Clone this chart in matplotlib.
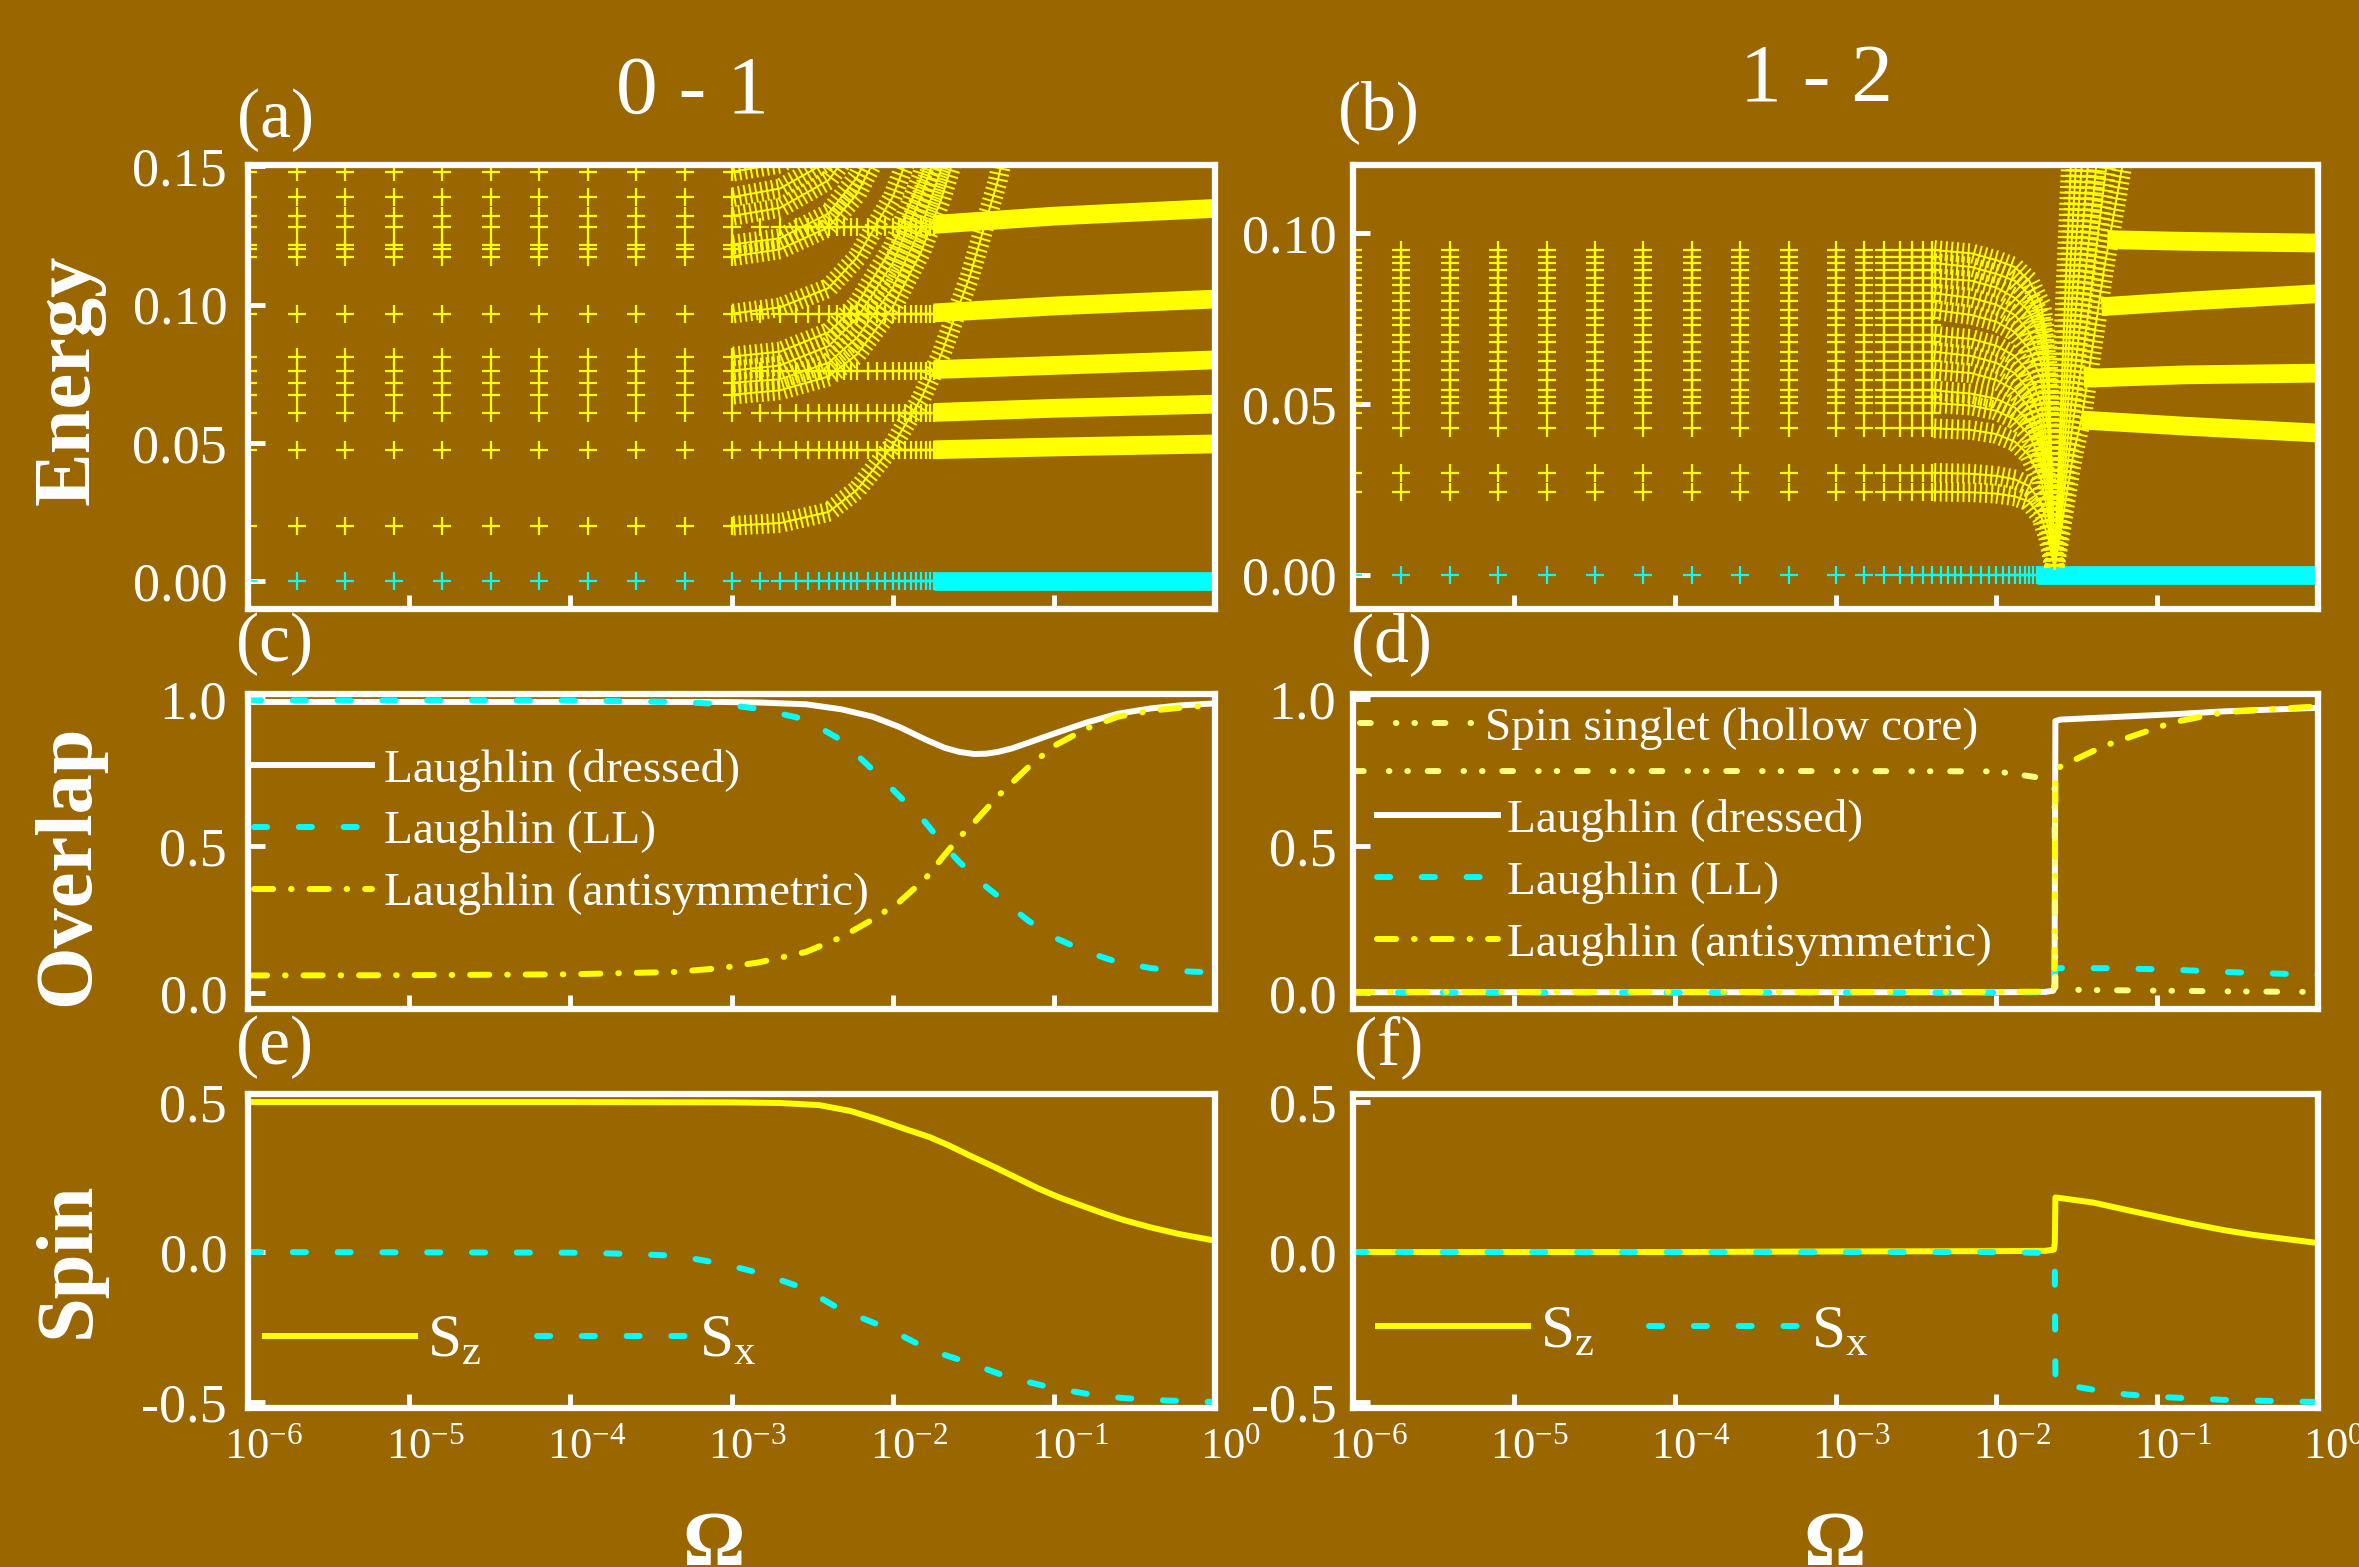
import matplotlib
matplotlib.use("Agg")
import matplotlib.pyplot as plt
import matplotlib.patheffects as pe
from matplotlib.transforms import ScaledTranslation
from matplotlib.ticker import LogLocator, NullLocator, FixedLocator, FormatStrFormatter

BG = "#996600"
YEL = "#ffff00"
CYA = "#00ffff"
WHT = "#ffffff"
PALE = "#ffff88"

# ---------------- energy spectra: sampling in Omega ----------------
omega_sparse = [1e-6, 2e-6, 4e-6, 8e-6, 1.6e-5, 3.2e-5, 6.4e-5, 1.28e-4, 2.56e-4, 5.12e-4, 1.0e-3]
omega_dense = [1.5e-3, 2.0e-3, 2.5e-3, 3.0e-3, 3.5e-3, 4.0e-3, 4.5e-3, 5.0e-3, 5.5e-3, 6.0e-3,
               7.0e-3, 8.0e-3, 9.0e-3, 1.0e-2, 1.1e-2, 1.2e-2, 1.3e-2, 1.4e-2, 1.5e-2, 1.6e-2,
               1.7e-2, 1.8e-2]

# (a) 0-1
levels_a = [0.0200, 0.0475, 0.0609, 0.0674, 0.0717, 0.0761, 0.0812, 0.0967, 0.1174, 0.1200,
            0.1217, 0.1280, 0.1320, 0.1388, 0.1480]
flat_a = [0.0475, 0.0609, 0.0761, 0.0967, 0.1280]
band_omega_a = [0.018, 0.1, 1.0]
bands_a = [[0.0475, 0.0485, 0.0496],
           [0.0610, 0.0625, 0.0640],
           [0.0765, 0.0780, 0.0800],
           [0.0970, 0.0995, 0.1020],
           [0.1290, 0.1320, 0.1348]]
ground_band = [0.0, 0.0, 0.0]
rise_omega_a = [1e-3, 2e-3, 4e-3, 6e-3, 1e-2, 1.5e-2, 2e-2, 3e-2, 4.5e-2, 6e-2]
rise_a = [[0.0200, 0.021, 0.025, 0.033, 0.049, 0.066, 0.082, 0.110, 0.145, 0.180],
          [0.0674, 0.069, 0.074, 0.082, 0.099, 0.119, 0.138, 0.172, 0.215, 0.260],
          [0.0717, 0.073, 0.079, 0.088, 0.106, 0.128, 0.149, 0.186, 0.230, 0.280],
          [0.0761, 0.078, 0.085, 0.095, 0.115, 0.139, 0.160, 0.200, 0.245, 0.290],
          [0.0812, 0.083, 0.090, 0.100, 0.121, 0.146, 0.168, 0.210, 0.260, 0.310],
          [0.0967, 0.099, 0.106, 0.117, 0.139, 0.166, 0.190, 0.230, 0.280, 0.330],
          [0.1174, 0.120, 0.128, 0.140, 0.165, 0.195, 0.220, 0.270, 0.320, 0.370],
          [0.1217, 0.124, 0.133, 0.146, 0.172, 0.203, 0.230, 0.280, 0.330, 0.380],
          [0.1320, 0.135, 0.145, 0.159, 0.187, 0.220, 0.250, 0.300, 0.350, 0.400],
          [0.1388, 0.142, 0.152, 0.167, 0.196, 0.230, 0.260, 0.310, 0.360, 0.410],
          [0.1480, 0.151, 0.162, 0.178, 0.210, 0.240, 0.270, 0.320, 0.370, 0.420]]

# (b) 1-2
levels_b = [0.0244, 0.0299, 0.0429, 0.0473, 0.0503, 0.0521, 0.0540, 0.0570, 0.0600, 0.0624,
            0.0653, 0.0680, 0.0700, 0.0731, 0.0750, 0.0775, 0.0800, 0.0824, 0.0848, 0.0868,
            0.0890, 0.0912, 0.0930, 0.0950]
omega_dense_b = [1.5e-3, 2.0e-3, 2.5e-3, 3.0e-3, 3.5e-3, 4.0e-3]
fan_omega_b = [4e-3, 7e-3, 1e-2, 1.3e-2, 1.6e-2, 1.9e-2, 2.1e-2, 2.3e-2]
fan_b = [[0.0244, 0.0242, 0.0238, 0.0230, 0.0215, 0.017, 0.011, 0.002],
         [0.0299, 0.0296, 0.0290, 0.0280, 0.0260, 0.021, 0.014, 0.002],
         [0.0429, 0.0424, 0.0412, 0.0390, 0.0350, 0.028, 0.018, 0.002],
         [0.0503, 0.0495, 0.0480, 0.0455, 0.0410, 0.033, 0.021, 0.002],
         [0.0540, 0.0530, 0.0515, 0.0490, 0.0450, 0.037, 0.025, 0.002],
         [0.0600, 0.0590, 0.0570, 0.0540, 0.0490, 0.040, 0.028, 0.002],
         [0.0653, 0.0640, 0.0620, 0.0590, 0.0540, 0.045, 0.032, 0.002],
         [0.0700, 0.0690, 0.0670, 0.0640, 0.0590, 0.050, 0.036, 0.002],
         [0.0775, 0.0760, 0.0740, 0.0710, 0.0660, 0.057, 0.042, 0.002],
         [0.0824, 0.0810, 0.0790, 0.0760, 0.0710, 0.062, 0.047, 0.002],
         [0.0868, 0.0860, 0.0840, 0.0810, 0.0770, 0.069, 0.054, 0.002],
         [0.0912, 0.0900, 0.0880, 0.0860, 0.0820, 0.075, 0.060, 0.002],
         [0.0950, 0.0940, 0.0920, 0.0900, 0.0860, 0.079, 0.065, 0.002]]
rise_omega_b = [0.023, 0.025, 0.027, 0.030, 0.034, 0.040, 0.047, 0.055, 0.062]
rise_b = [[0.002, 0.045, 0.085, 0.135, 0.190, 0.260, 0.330, 0.400, 0.460],
          [0.002, 0.035, 0.065, 0.105, 0.150, 0.210, 0.280, 0.350, 0.410],
          [0.002, 0.027, 0.052, 0.085, 0.120, 0.170, 0.230, 0.290, 0.350],
          [0.002, 0.022, 0.042, 0.068, 0.098, 0.138, 0.180, 0.220, 0.260],
          [0.002, 0.018, 0.034, 0.055, 0.078, 0.110, 0.145, 0.180, 0.210],
          [0.002, 0.015, 0.028, 0.045, 0.062, 0.088, 0.115, 0.140, 0.160],
          [0.002, 0.012, 0.022, 0.035, 0.046, 0.068, 0.090, 0.108, 0.122]]
bands_b_omega = [[0.049, 0.15, 1.0], [0.045, 0.15, 1.0], [0.035, 0.15, 1.0], [0.034, 0.15, 1.0]]
bands_b = [[0.0980, 0.0975, 0.0970],
           [0.0784, 0.0800, 0.0822],
           [0.0575, 0.0585, 0.0590],
           [0.0453, 0.0435, 0.0415]]

# ---------------- overlaps ----------------
omega_c = [1e-6, 1e-5, 1e-4, 4.5e-4, 8.6e-4, 1.5e-3, 2.9e-3, 4.8e-3, 7.5e-3, 1.1e-2, 1.6e-2,
           2.1e-2, 2.6e-2, 3.2e-2, 3.8e-2, 4.5e-2, 5.5e-2, 7e-2, 0.1, 0.16, 0.25, 0.4, 0.6, 1.0]
dressed_c = [0.990, 0.990, 0.990, 0.990, 0.990, 0.988, 0.982, 0.965, 0.940, 0.905, 0.862,
             0.834, 0.820, 0.813, 0.814, 0.820, 0.832, 0.852, 0.882, 0.920, 0.950, 0.968, 0.978, 0.985]
ll_c = [0.995, 0.995, 0.995, 0.990, 0.983, 0.966, 0.930, 0.860, 0.760, 0.670, 0.580,
        0.500, 0.445, 0.400, 0.362, 0.330, 0.290, 0.245, 0.190, 0.140, 0.105, 0.085, 0.075, 0.070]
anti_c = [0.060, 0.061, 0.064, 0.072, 0.085, 0.105, 0.140, 0.190, 0.250, 0.310, 0.390,
          0.470, 0.530, 0.580, 0.625, 0.670, 0.715, 0.770, 0.840, 0.900, 0.940, 0.960, 0.970, 0.980]

omega_d = [1e-6, 1e-3, 1e-2, 0.020, 0.0226, 0.0230, 0.0233, 0.025, 0.0465, 0.124, 0.26, 1.0]
dressed_d = [0.003, 0.003, 0.003, 0.004, 0.008, 0.020, 0.925, 0.930, 0.937, 0.948, 0.958, 0.970]
ll_d = [0.002, 0.002, 0.002, 0.003, 0.006, 0.020, 0.083, 0.085, 0.085, 0.080, 0.072, 0.062]
anti_d = [0.004, 0.004, 0.004, 0.005, 0.010, 0.030, 0.755, 0.770, 0.840, 0.920, 0.955, 0.975]
singlet_d = [0.755, 0.755, 0.754, 0.730, 0.715, 0.700, 0.012, 0.012, 0.010, 0.008, 0.006, 0.004]

# ---------------- spin ----------------
omega_sz_e = [1e-6, 1e-4, 1e-3, 2e-3, 3.5e-3, 5.5e-3, 8e-3, 1.2e-2, 1.7e-2, 2.2e-2, 3e-2,
              4.3e-2, 6e-2, 8e-2, 0.107, 0.14, 0.2, 0.27, 0.4, 0.6, 1.0]
sz_e = [0.500, 0.500, 0.499, 0.497, 0.490, 0.470, 0.443, 0.410, 0.383, 0.357, 0.322,
        0.283, 0.245, 0.212, 0.183, 0.160, 0.130, 0.107, 0.082, 0.060, 0.038]
omega_sx_e = [1e-6, 1e-4, 1.9e-4, 4.5e-4, 8.6e-4, 1.5e-3, 2.8e-3, 4.8e-3, 9.2e-3, 1.7e-2,
              3e-2, 5.2e-2, 9.8e-2, 0.17, 0.27, 0.5, 1.0]
sx_e = [0.000, -0.002, -0.005, -0.012, -0.038, -0.070, -0.120, -0.193, -0.253, -0.327,
        -0.370, -0.417, -0.453, -0.475, -0.487, -0.495, -0.500]

omega_sz_f = [1e-6, 1e-4, 1e-3, 1e-2, 0.020, 0.0228, 0.0231, 0.0233, 0.025, 0.04, 0.065,
              0.103, 0.16, 0.26, 0.4, 0.64, 1.0]
sz_f = [0.000, 0.000, 0.002, 0.003, 0.004, 0.008, 0.030, 0.182, 0.180, 0.165, 0.140,
        0.117, 0.095, 0.073, 0.057, 0.043, 0.030]
omega_sx_f = [1e-6, 1e-2, 0.020, 0.0228, 0.0231, 0.0233, 0.025, 0.041, 0.065, 0.103, 0.26, 1.0]
sx_f = [0.000, 0.000, -0.003, -0.015, -0.050, -0.430, -0.440, -0.460, -0.475, -0.483, -0.493, -0.500]

plt.rcParams.update({
    "font.family": ["Liberation Serif", "DejaVu Serif"],
    "mathtext.fontset": "custom",
    "mathtext.rm": "Liberation Serif",
    "mathtext.it": "Liberation Serif:italic",
    "mathtext.bf": "Liberation Serif:bold",
    "axes.unicode_minus": False,
})

W, H = 2359, 1567
fig = plt.figure(figsize=(W / 100, H / 100), dpi=100, facecolor=BG)

cols = [(248, 967), (1353, 965)]
rows = [(165, 609), (694, 1009), (1094, 1408)]
axes = [[fig.add_axes([c0 / W, 1 - b / H, cw / W, (b - t) / H]) for c0, cw in cols] for t, b in rows]


def style(ax, ylim, yticks, fmt, xlabels, ypad):
    ax.set_facecolor(BG)
    ax.set_xscale("log")
    ax.set_xlim(1e-6, 1.0)
    ax.set_ylim(*ylim)
    ax.xaxis.set_major_locator(LogLocator(base=10, numticks=12))
    ax.xaxis.set_minor_locator(NullLocator())
    ax.yaxis.set_major_locator(FixedLocator(yticks))
    ax.yaxis.set_major_formatter(FormatStrFormatter(fmt))
    for s in ax.spines.values():
        s.set_color(WHT)
        s.set_linewidth(4.5)
    ax.tick_params(axis="both", which="both", direction="in", colors=WHT, labelcolor=WHT,
                   width=3.5, top=False, right=False)
    ax.tick_params(axis="y", length=12, pad=ypad, labelsize=39)
    ax.tick_params(axis="x", length=10, pad=14, labelsize=32, labelbottom=xlabels)
    if xlabels:
        ticks = ax.xaxis.get_major_ticks()
        for i, t in enumerate(ticks):
            dx = 4 if i == len(ticks) - 1 else 16
            t.label1.set_transform(t.label1.get_transform() +
                                   ScaledTranslation(dx / 100, 0, fig.dpi_scale_trans))


mk = dict(ls="none", marker="+", ms=13, mew=1.6)


def ladder(ax, x, y, color=YEL):
    ax.plot(x, y, color=color, lw=1.4,
            path_effects=[pe.Normal(),
                          pe.TickedStroke(spacing=4, angle=90, length=1.6),
                          pe.TickedStroke(spacing=4, angle=-90, length=1.6)])


# ---- (a) ----
ax = axes[0][0]
ax.plot(omega_sparse + omega_dense, [0.0] * (len(omega_sparse) + len(omega_dense)), color=CYA, **mk)
ax.plot(band_omega_a, ground_band, lw=13.5, color=CYA, solid_capstyle="butt")
for e in levels_a:
    ax.plot(omega_sparse, [e] * len(omega_sparse), color=YEL, **mk)
for e in flat_a:
    ax.plot(omega_dense, [e] * len(omega_dense), color=YEL, **mk)
for ys in rise_a:
    ladder(ax, rise_omega_a, ys)
for ys in bands_a:
    ax.plot(band_omega_a, ys, lw=13.5, color=YEL, solid_capstyle="butt")
style(ax, (-0.0101, 0.1505), [0.0, 0.05, 0.10, 0.15], "%.2f", False, 15)

# ---- (b) ----
ax = axes[0][1]
ax.plot(omega_sparse + omega_dense, [0.0] * (len(omega_sparse) + len(omega_dense)), color=CYA, **mk)
ax.plot(band_omega_a, ground_band, lw=13.5, color=CYA, solid_capstyle="butt")
for e in levels_b:
    ax.plot(omega_sparse + omega_dense_b, [e] * (len(omega_sparse) + len(omega_dense_b)), color=YEL, **mk)
for ys in fan_b:
    ladder(ax, fan_omega_b, ys)
for ys in rise_b:
    ladder(ax, rise_omega_b, ys)
for xs, ys in zip(bands_b_omega, bands_b):
    ax.plot(xs, ys, lw=13.5, color=YEL, solid_capstyle="butt")
style(ax, (-0.0099, 0.1198), [0.0, 0.05, 0.10], "%.2f", False, 12)

# ---- line styles ----
LW = 4.3
DASH = (2.2, 5.3)
DASHDOT = (3.2, 3.0, 0.1, 3.0)
DASHDOTDOT = (1.8, 4.2, 0.1, 3.0, 0.1, 3.3)
leg_kw = dict(frameon=False, labelcolor=WHT, borderpad=0, borderaxespad=0)

# ---- (c) ----
ax = axes[1][0]
ax.plot(omega_c, dressed_c, color=WHT, lw=LW, label="Laughlin (dressed)")
ax.plot(omega_c, ll_c, color=CYA, lw=LW, dashes=DASH, dash_capstyle="round", label="Laughlin (LL)")
ax.plot(omega_c, anti_c, color=YEL, lw=LW, dashes=DASHDOT, dash_capstyle="round",
        label="Laughlin (antisymmetric)")
style(ax, (-0.054, 1.017), [0.0, 0.5, 1.0], "%.1f", False, 15)
ax.legend(loc="center left", bbox_to_anchor=(0.006, 0.562), fontsize=34, handlelength=2.5,
          handletextpad=0.25, labelspacing=0.4, **leg_kw)

# ---- (d) ----
ax = axes[1][1]
ax.plot(omega_d, dressed_d, color=WHT, lw=LW, label="Laughlin (dressed)")
ax.plot(omega_d, ll_d, color=CYA, lw=LW, dashes=DASH, dash_capstyle="round", label="Laughlin (LL)")
ax.plot(omega_d, anti_d, color=YEL, lw=LW, dashes=DASHDOT, dash_capstyle="round",
        label="Laughlin (antisymmetric)")
sing, = ax.plot(omega_d, singlet_d, color=PALE, lw=LW, dashes=DASHDOTDOT, dash_capstyle="round",
                label="Spin singlet (hollow core)")
style(ax, (-0.054, 1.017), [0.0, 0.5, 1.0], "%.1f", False, 12)
h, l = ax.get_legend_handles_labels()
leg1 = ax.legend([sing], ["Spin singlet (hollow core)"], loc="center left",
                 bbox_to_anchor=(0.007, 0.892), fontsize=34, handlelength=2.4,
                 handletextpad=0.25, **leg_kw)
ax.add_artist(leg1)
ax.legend(h[:3], l[:3], loc="center left", bbox_to_anchor=(0.025, 0.403), fontsize=34,
          handlelength=2.55, handletextpad=0.2, labelspacing=0.4, **leg_kw)

# ---- (e) ----
ax = axes[2][0]
ax.plot(omega_sz_e, sz_e, color=YEL, lw=LW, label=r"S$_\mathrm{z}$")
ax.plot(omega_sx_e, sx_e, color=CYA, lw=LW, dashes=DASH, dash_capstyle="round", label=r"S$_\mathrm{x}$")
style(ax, (-0.52, 0.527), [-0.5, 0.0, 0.5], "%.1f", True, 15)
ax.legend(loc="center left", bbox_to_anchor=(0.018, 0.21), ncol=2, fontsize=44,
          handlelength=2.45, handletextpad=0.2, columnspacing=0.9, **leg_kw)

# ---- (f) ----
ax = axes[2][1]
ax.plot(omega_sz_f, sz_f, color=YEL, lw=LW, label=r"S$_\mathrm{z}$")
ax.plot(omega_sx_f, sx_f, color=CYA, lw=LW, dashes=DASH, dash_capstyle="round", label=r"S$_\mathrm{x}$")
style(ax, (-0.52, 0.527), [-0.5, 0.0, 0.5], "%.1f", True, 12)
ax.legend(loc="center left", bbox_to_anchor=(0.026, 0.24), ncol=2, fontsize=44,
          handlelength=2.45, handletextpad=0.2, columnspacing=0.9, **leg_kw)


def ftext(x, y, s, **kw):
    fig.text(x / W, 1 - y / H, s, color=WHT, **kw)


ftext(692, 113, "0 - 1", fontsize=60, ha="center", va="baseline")
ftext(1816, 102, "1 - 2", fontsize=60, ha="center", va="baseline")
for lab, x, y in [("(a)", 237, 137), ("(b)", 1338, 129), ("(c)", 236, 661),
                  ("(d)", 1351, 661), ("(e)", 236, 1064), ("(f)", 1354, 1064)]:
    ftext(x, y, lab, fontsize=50, ha="left", va="baseline")
for lab, y in [("Energy", 380), ("Overlap", 865), ("Spin", 1260)]:
    ftext(69, y, lab, fontsize=58, fontweight="bold", rotation=90, ha="center", va="center")
ftext(714, 1565, "Ω", fontsize=56, fontweight="bold", ha="center", va="baseline")
ftext(1835, 1565, "Ω", fontsize=56, fontweight="bold", ha="center", va="baseline")

fig.savefig("out.png", dpi=100, facecolor=BG)
